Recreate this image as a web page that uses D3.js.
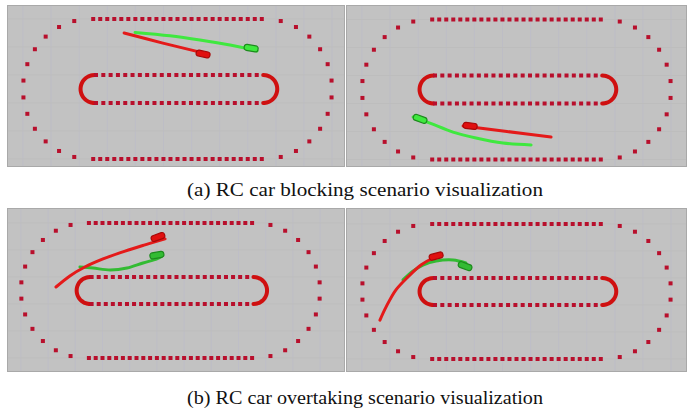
<!DOCTYPE html>
<html>
<head>
<meta charset="utf-8">
<script src="https://cdn.jsdelivr.net/npm/d3@7"></script>
<style>
    body, html { margin: 0; padding: 0; background: #fff; }
    #container { width: 687px; height: 410px; }
    .caption {
        font-family: "Liberation Serif", "Times New Roman", Times, serif;
        font-size: 19px;
        text-anchor: middle;
        fill: #111;
    }
</style>
</head>
<body>
<div id="container"></div>
<script>
// track layout in map units (origin = centre of the loop, y up)
const outerStraight = [-3.0, 3.0];
const outerCurveCentres = [-3.1, 3.1];
const outerRadii = [2.4, 2.5];
const outerStraightY = [2.5, -2.5];
const outerStep = 0.25;
const outerCurveDots = 13;

const innerStraight = [-2.95, 3.05];
const innerRadius = 0.5;
const innerStep = 0.26;

const gridLines = [-5.5, -4.5, -3.5, -2.5, -1.5, -0.5, 0.5, 1.5, 2.5, 3.5, 4.5, 5.5];

// (a) blocking, left frame
const aLeftGreen = [[-1.51, 2.02], [-0.27, 1.90], [0.80, 1.75], [1.87, 1.57], [2.83, 1.36]];
const aLeftRed = [[-1.90, 2.00], [-0.52, 1.64], [0.91, 1.29]];
// (a) blocking, right frame
const aRightGreen = [[-3.68, -0.98], [-3.08, -1.20], [-2.26, -1.52], [-1.44, -1.73], [-0.48, -1.91], [0.52, -1.98]];
const aRightRed = [[-1.90, -1.30], [-0.34, -1.50], [1.23, -1.70]];
// (b) overtaking, left frame
const bLeftGreen = [[-3.33, 0.87], [-2.85, 0.83], [-2.22, 0.76], [-1.60, 0.83], [-1.01, 1.02], [-0.50, 1.17], [-0.31, 1.28]];
const bLeftRed = [[-4.21, 0.13], [-3.70, 0.54], [-3.15, 0.87], [-2.48, 1.17], [-1.67, 1.46], [-0.94, 1.69], [-0.20, 1.91]];
// (b) overtaking, right frame
const bRightGreen = [[-4.04, 0.43], [-3.68, 0.76], [-3.33, 0.98], [-2.86, 1.13], [-2.26, 1.17], [-1.80, 1.06]];
const bRightRed = [[-4.86, -1.06], [-4.64, -0.57], [-4.29, 0.06], [-3.86, 0.54], [-3.40, 0.98], [-2.97, 1.24], [-2.69, 1.35]];

// cars: [x, y, heading in degrees, colour]
const aLeftCars = [[2.62, 1.46, -10, "green"], [0.91, 1.25, -12, "red"]];
const aRightCars = [[-3.43, -1.05, -20, "green"], [-1.65, -1.30, -7, "red"]];
const bLeftCars = [[-0.50, 1.31, 10, "green"], [-0.46, 1.98, 20, "red"]];
const bRightCars = [[-1.83, 0.94, -20, "green"], [-2.86, 1.31, 15, "red"]];

const captions = ["(a) RC car blocking scenario visualization", "(b) RC car overtaking scenario visualization"];

const width = 687, height = 410;
const bg = "#c2c2c2";
const dotColor = "#b80f2c";
const boundColor = "#cf1010";
const redLine = "#e41a1a";
const greenTop = "#3fe83f";
const greenBottom = "#33bb33";

const panels = [
    { x0: 7, y0: 5, x1: 345, y1: 167, cx: 177.5, cy: 89, kx: 28.1, ky: 28, green: aLeftGreen, red: aLeftRed, cars: aLeftCars, g: greenTop },
    { x0: 346, y0: 5, x1: 687, y1: 167, cx: 516.5, cy: 89.5, kx: 28.1, ky: 28, green: aRightGreen, red: aRightRed, cars: aRightCars, g: greenTop },
    { x0: 7, y0: 208, x1: 345, y1: 372, cx: 170.5, cy: 290.5, kx: 27.2, ky: 27, green: bLeftGreen, red: bLeftRed, cars: bLeftCars, g: greenBottom },
    { x0: 346, y0: 208, x1: 687, y1: 372, cx: 516.5, cy: 291.5, kx: 28.1, ky: 27, green: bRightGreen, red: bRightRed, cars: bRightCars, g: greenBottom }
];

// waypoint dots of the outer boundary
const outerDots = [];
d3.range(outerStraight[0], outerStraight[1] + 1e-6, outerStep).forEach(x => {
    outerDots.push([x, outerStraightY[0]]);
    outerDots.push([x, outerStraightY[1]]);
});
d3.range(1, outerCurveDots).forEach(i => {
    const t = Math.PI * i / outerCurveDots;
    outerDots.push([outerCurveCentres[0] - outerRadii[0] * Math.sin(t), outerRadii[1] * Math.cos(t)]);
    outerDots.push([outerCurveCentres[1] + outerRadii[0] * Math.sin(t), outerRadii[1] * Math.cos(t)]);
});
// inner straight dots
const innerDots = [];
d3.range(innerStraight[0] + 0.05, innerStraight[1] - 0.02, innerStep).forEach(x => {
    innerDots.push([x, innerRadius]);
    innerDots.push([x, -innerRadius]);
});
const leftArc = d3.range(0, 181, 10).map(a => [innerStraight[0] - innerRadius * Math.sin(a * Math.PI / 180), innerRadius * Math.cos(a * Math.PI / 180)]);
const rightArc = d3.range(0, 181, 10).map(a => [innerStraight[1] + innerRadius * Math.sin(a * Math.PI / 180), innerRadius * Math.cos(a * Math.PI / 180)]);

const svg = d3.select("#container").append("svg")
    .attr("width", width)
    .attr("height", height)
    .style("display", "block");

const defs = svg.append("defs");

panels.forEach((p, i) => {
    const x = d3.scaleLinear().domain([-1, 1]).range([p.cx - p.kx, p.cx + p.kx]);
    const y = d3.scaleLinear().domain([-1, 1]).range([p.cy + p.ky, p.cy - p.ky]);
    const line = d3.line().x(d => x(d[0])).y(d => y(d[1])).curve(d3.curveCatmullRom);

    defs.append("clipPath").attr("id", "clip" + i)
        .append("rect")
        .attr("x", p.x0).attr("y", p.y0)
        .attr("width", p.x1 - p.x0).attr("height", p.y1 - p.y0);

    const g = svg.append("g").attr("clip-path", `url(#clip${i})`);

    g.append("rect")
        .attr("x", p.x0).attr("y", p.y0)
        .attr("width", p.x1 - p.x0).attr("height", p.y1 - p.y0)
        .attr("fill", bg);

    // faint grid
    g.selectAll(".vgrid")
        .data(gridLines)
        .join("line")
        .attr("x1", d => x(d)).attr("x2", d => x(d))
        .attr("y1", p.y0).attr("y2", p.y1)
        .attr("stroke", "#babaca")
        .attr("stroke-opacity", 0.6)
        .attr("stroke-width", 1);

    g.selectAll(".hgrid")
        .data(gridLines.filter(d => Math.abs(d) < 3))
        .join("line")
        .attr("y1", d => y(d)).attr("y2", d => y(d))
        .attr("x1", p.x0).attr("x2", p.x1)
        .attr("stroke", "#bdbdbd")
        .attr("stroke-width", 1);

    // inner boundary arcs
    [leftArc, rightArc].forEach(arc => {
        g.append("path")
            .attr("d", line(arc))
            .attr("fill", "none")
            .attr("stroke", boundColor)
            .attr("stroke-width", 4)
            .attr("stroke-linecap", "round");
    });

    g.selectAll(".dot")
        .data(outerDots.concat(innerDots))
        .join("rect")
        .attr("x", d => x(d[0]) - 2)
        .attr("y", d => y(d[1]) - 2)
        .attr("width", 4)
        .attr("height", 4)
        .attr("fill", dotColor);

    // planned trajectories
    g.append("path")
        .attr("d", line(p.green))
        .attr("fill", "none")
        .attr("stroke", p.g)
        .attr("stroke-width", 3)
        .attr("stroke-linecap", "round");

    g.append("path")
        .attr("d", line(p.red))
        .attr("fill", "none")
        .attr("stroke", redLine)
        .attr("stroke-width", 3)
        .attr("stroke-linecap", "round");

    // cars
    g.selectAll(".car")
        .data(p.cars)
        .join("rect")
        .attr("x", -7).attr("y", -3)
        .attr("width", 14).attr("height", 6)
        .attr("rx", 2.5)
        .attr("transform", d => `translate(${x(d[0])},${y(d[1])}) rotate(${-d[2]})`)
        .attr("fill", d => d[3] === "red" ? "#e01010" : p.g)
        .attr("stroke", d => d[3] === "red" ? "#a80808" : "#1d8a1d")
        .attr("stroke-width", 1.2);

    g.append("rect")
        .attr("x", p.x0 + 0.5).attr("y", p.y0 + 0.5)
        .attr("width", p.x1 - p.x0 - 1).attr("height", p.y1 - p.y0 - 1)
        .attr("fill", "none")
        .attr("stroke", "#a9a9a9");
});

svg.selectAll(".caption")
    .data(captions)
    .join("text")
    .attr("class", "caption")
    .attr("x", 365)
    .attr("y", (d, i) => i === 0 ? 196 : 404)
    .attr("textLength", 356)
    .attr("lengthAdjust", "spacingAndGlyphs")
    .text(d => d);
</script>
</body>
</html>
